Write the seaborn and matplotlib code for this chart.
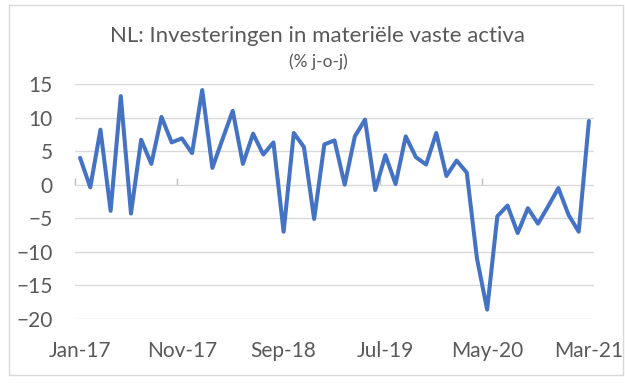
import matplotlib
matplotlib.use("Agg")
import matplotlib.pyplot as plt
import seaborn as sns
import pandas as pd
import numpy as np
from matplotlib.patches import Rectangle

months = pd.date_range("2017-01-01", "2021-03-01", freq="MS")
month_labels = [d.strftime("%b-%y") for d in months]
values = [4.0, -0.4, 8.2, -3.9, 13.2, -4.3, 6.7, 3.1, 10.1, 6.3,
          6.9, 4.7, 14.1, 2.5, 6.8, 11.0, 3.1, 7.6, 4.5, 6.3,
          -7.0, 7.7, 5.6, -5.1, 6.0, 6.6, 0.0, 7.2, 9.7, -0.8,
          4.4, 0.1, 7.2, 4.1, 3.0, 7.7, 1.3, 3.6, 1.8, -11.0,
          -18.6, -4.7, -3.1, -7.2, -3.5, -5.8, -3.2, -0.5, -4.5, -7.0,
          9.5]
yticks = [-20, -15, -10, -5, 0, 5, 10, 15]
title = "NL: Investeringen in materiële vaste activa"
subtitle = "(% j-o-j)"

df = pd.DataFrame({"idx": np.arange(len(values)), "label": month_labels, "value": values})

sns.set_theme(style="white")
plt.rcParams['font.family'] = ['Lato', 'DejaVu Sans']
text_color = "#595959"

fig = plt.figure(figsize=(6.25, 3.83), dpi=100)
fig.patch.set_facecolor("white")
ax = fig.add_axes([75/625, 1-319/383, (594-75)/625, (319-84)/383])

sns.lineplot(data=df, x="idx", y="value", ax=ax, color="#4472C4", linewidth=2.9)

ax.set_xlim(-0.5, len(values) - 0.5)
ax.set_ylim(-20, 15)
ax.set_yticks(yticks)
ax.yaxis.grid(True, color="#D9D9D9", linewidth=1.0)
ax.set_axisbelow(True)
for s in ax.spines.values():
    s.set_visible(False)
ax.set_xlabel("")
ax.set_ylabel("")

pos = list(range(0, len(values), 10))
ax.set_xticks(pos)
ax.set_xticklabels([month_labels[i] for i in pos])
ax.tick_params(axis="x", length=0, pad=16, labelsize=15, labelcolor=text_color)
ax.tick_params(axis="y", length=0, pad=16, labelsize=15, labelcolor=text_color)

# category axis drawn at zero with boundary ticks
zero_frac = (0 - (-20)) / (15 - (-20))
sec = ax.secondary_xaxis(zero_frac)
sec.set_xticks([p - 0.5 for p in pos])
sec.set_xticklabels([])
sec.tick_params(axis="x", direction="out", length=5, width=1, color="#BFBFBF")
sec.spines["bottom"].set_color("#BFBFBF")
sec.spines["bottom"].set_linewidth(1.0)
for k in ["top", "left", "right"]:
    if k in sec.spines:
        sec.spines[k].set_visible(False)

fig.text(317/625, 1-36/383, title, ha="center", va="center", fontsize=16, color=text_color)
fig.text(318/625, 1-62/383, subtitle, ha="center", va="center", fontsize=12.5, color=text_color)

fig.patches.append(Rectangle((9/625, 1-375/383), (623-9)/625, (375-5)/383,
                             transform=fig.transFigure, fill=False,
                             edgecolor="#D9D9D9", linewidth=1.0))

fig.savefig("out.png", dpi=100)
